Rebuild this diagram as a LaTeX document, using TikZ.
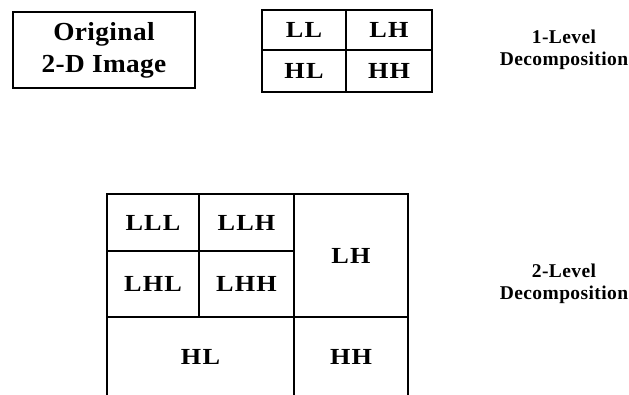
\documentclass[tikz,border=0pt]{standalone}
\usepackage{fontspec}
\setmainfont{Liberation Serif}
\newfontfamily\cellfont[FakeStretch=1.14,LetterSpace=5]{Liberation Serif}
\newfontfamily\titlefont[FakeStretch=1.05,LetterSpace=1.5]{Liberation Serif}
\newfontfamily\capfont[LetterSpace=2]{Liberation Serif}
\begin{document}
\begin{tikzpicture}[x=1pt,y=-1pt,
  frame/.style={draw,line width=2.8pt,rectangle,inner sep=0pt,outer sep=0pt},
  cell/.style={draw,line width=2pt,rectangle,inner sep=0pt,outer sep=0pt,
    font=\cellfont\fontsize{23}{26}\selectfont\bfseries},
  caption/.style={align=center,inner sep=0pt,
    font=\capfont\fontsize{19.5}{22}\selectfont\bfseries}]
\useasboundingbox (0,0) rectangle (629,394);

% source image
\node[frame,minimum width=182pt,minimum height=76pt,align=center,
  font=\titlefont\fontsize{26}{32}\selectfont\bfseries] (orig) at (104,50)
  {Original\\2-D Image};

% one-level split
\node[cell,minimum width=84pt,minimum height=40pt] (ll) at (304,30) {LL};
\node[cell,minimum width=86pt,minimum height=40pt] (lh) at (389,30) {LH};
\node[cell,minimum width=84pt,minimum height=42pt] (hl) at (304,71) {HL};
\node[cell,minimum width=86pt,minimum height=42pt] (hh) at (389,71) {HH};
\draw[line width=2.8pt] (ll.north west) rectangle (hh.south east);

\node[caption] (cap1) at (564,50) {1-Level\\Decomposition};

% two-level split
\node[cell,minimum width=92pt,minimum height=57pt] (lll) at (153,222.5) {LLL};
\node[cell,minimum width=95pt,minimum height=57pt] (llh) at (246.5,222.5) {LLH};
\node[cell,minimum width=92pt,minimum height=66pt] (lhl) at (153,284) {LHL};
\node[cell,minimum width=95pt,minimum height=66pt] (lhh) at (246.5,284) {LHH};
\node[cell,line width=2.8pt,minimum width=114pt,minimum height=123pt] (lh2) at (351,255.5) {LH};
\node[cell,line width=2.8pt,minimum width=187pt,minimum height=79pt] (hl2) at (200.5,356.5) {HL};
\node[cell,line width=2.8pt,minimum width=114pt,minimum height=79pt] (hh2) at (351,356.5) {HH};
\draw[line width=2.8pt] (lll.north west) rectangle (lhh.south east);
\draw[line width=2.8pt] (lll.north west) rectangle (hh2.south east);

\node[caption] (cap2) at (564,284) {2-Level\\Decomposition};
\end{tikzpicture}
\end{document}
